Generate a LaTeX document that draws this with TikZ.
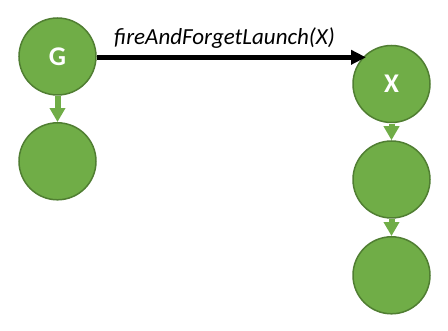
\documentclass[tikz,border=0pt]{standalone}
\usepackage{fontspec}
\setmainfont{Carlito}
\usetikzlibrary{arrows.meta}
\definecolor{gfill}{HTML}{70AD47}
\definecolor{gline}{HTML}{507E32}
\begin{document}
\begin{tikzpicture}[x=1pt,y=-1pt,
  task/.style={circle,fill=gfill,draw=gline,line width=1.5pt,minimum size=77pt,inner sep=0pt,
    text=white,font=\fontsize{27}{27}\selectfont\bfseries},
  seq/.style={draw=gfill,line width=6pt,-{Triangle[length=14pt,width=15pt]},shorten <=0.5pt},
  launch/.style={draw=black,line width=4.5pt,-{Triangle[length=15pt,width=14pt]}}]
\useasboundingbox (0,0) rectangle (448,331);
\node[task] (g) at (57.5,56.5) {G};
\node[task] (g2) at (57.5,161.3) {};
\node[task] (x) at (391.5,84) {X};
\node[task] (x2) at (391.5,179.5) {};
\node[task] (x3) at (391.5,275.3) {};
\coordinate (xt) at (366,57.3);
\draw[launch] (g.east |- 0,57.3) -- (xt);
\node[font=\fontsize{23}{23}\selectfont\itshape,anchor=base] (lbl) at (224.5,45) {fireAndForgetLaunch(X)};
\draw[seq] (g) -- (g2);
\draw[seq] (x) -- (x2);
\draw[seq] (x2) -- (x3);
\end{tikzpicture}
\end{document}
